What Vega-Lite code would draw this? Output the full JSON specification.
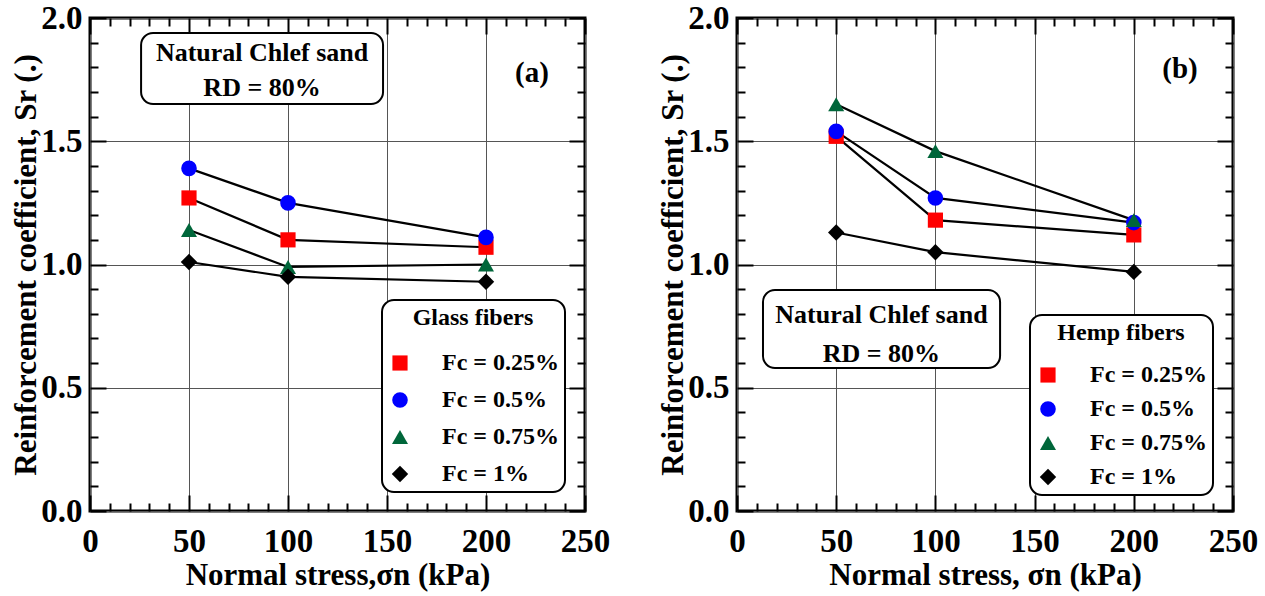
{
  "$schema": "https://vega.github.io/schema/vega-lite/v6.json",
  "autosize": {"type": "pad"},
  "padding": {"left": 9, "top": 0, "right": 5, "bottom": 0},
  "background": "white",
  "bounds": "flush",
  "spacing": 152,
  "datasets": {
    "glass": [
      {"sigma": 50, "Fc": "Fc = 0.25%", "Sr": 1.27},
      {"sigma": 100, "Fc": "Fc = 0.25%", "Sr": 1.10},
      {"sigma": 200, "Fc": "Fc = 0.25%", "Sr": 1.07},
      {"sigma": 50, "Fc": "Fc = 0.5%", "Sr": 1.39},
      {"sigma": 100, "Fc": "Fc = 0.5%", "Sr": 1.25},
      {"sigma": 200, "Fc": "Fc = 0.5%", "Sr": 1.11},
      {"sigma": 50, "Fc": "Fc = 0.75%", "Sr": 1.14},
      {"sigma": 100, "Fc": "Fc = 0.75%", "Sr": 0.99},
      {"sigma": 200, "Fc": "Fc = 0.75%", "Sr": 1.00},
      {"sigma": 50, "Fc": "Fc = 1%", "Sr": 1.01},
      {"sigma": 100, "Fc": "Fc = 1%", "Sr": 0.95},
      {"sigma": 200, "Fc": "Fc = 1%", "Sr": 0.93}
    ],
    "hemp": [
      {"sigma": 50, "Fc": "Fc = 0.25%", "Sr": 1.52},
      {"sigma": 100, "Fc": "Fc = 0.25%", "Sr": 1.18},
      {"sigma": 200, "Fc": "Fc = 0.25%", "Sr": 1.12},
      {"sigma": 50, "Fc": "Fc = 0.5%", "Sr": 1.54},
      {"sigma": 100, "Fc": "Fc = 0.5%", "Sr": 1.27},
      {"sigma": 200, "Fc": "Fc = 0.5%", "Sr": 1.17},
      {"sigma": 50, "Fc": "Fc = 0.75%", "Sr": 1.65},
      {"sigma": 100, "Fc": "Fc = 0.75%", "Sr": 1.46},
      {"sigma": 200, "Fc": "Fc = 0.75%", "Sr": 1.18},
      {"sigma": 50, "Fc": "Fc = 1%", "Sr": 1.13},
      {"sigma": 100, "Fc": "Fc = 1%", "Sr": 1.05},
      {"sigma": 200, "Fc": "Fc = 1%", "Sr": 0.97}
    ]
  },
  "hconcat": [
    {
      "width": 495,
      "height": 493,
      "resolve": {"axis": {"x": "independent", "y": "independent"}},
      "layer": [
        {
          "data": {"name": "glass"},
          "mark": {"type": "line", "color": "black", "strokeWidth": 2.2},
          "encoding": {
            "x": {"field": "sigma", "type": "quantitative", "scale": {"domain": [0, 250], "nice": false, "zero": false},
              "axis": {"orient": "bottom", "values": [0,10,20,30,40,50,60,70,80,90,100,110,120,130,140,150,160,170,180,190,200,210,220,230,240,250],
                "labelExpr": "datum.value % 50 === 0 ? datum.label : ''",
                "tickSize": {"condition": {"test": "datum.value % 50 === 0", "value": -16}, "value": -8},
                "labelPadding": 30, "grid": true, "gridColor": "#555", "gridWidth": 1,
                "gridOpacity": {"condition": {"test": "datum.value % 50 === 0", "value": 1}, "value": 0},
                "title": "Normal stress,σn (kPa)", "titlePadding": -6}},
            "y": {"field": "Sr", "type": "quantitative", "scale": {"domain": [0, 2], "nice": false, "zero": false},
              "axis": {"orient": "left", "values": [0,0.1,0.2,0.3,0.4,0.5,0.6,0.7,0.8,0.9,1,1.1,1.2,1.3,1.4,1.5,1.6,1.7,1.8,1.9,2],
                "labelExpr": "abs(datum.value*2 - round(datum.value*2)) < 0.01 ? format(datum.value, '.1f') : ''",
                "tickSize": {"condition": {"test": "abs(datum.value*2 - round(datum.value*2)) < 0.01", "value": -16}, "value": -8},
                "labelPadding": 24, "grid": true, "gridColor": "#555", "gridWidth": 1,
                "gridOpacity": {"condition": {"test": "abs(datum.value*2 - round(datum.value*2)) < 0.01", "value": 1}, "value": 0},
                "title": "Reinforcement coefficient, Sr (.)", "titlePadding": -2}},
            "detail": {"field": "Fc"}
          }
        },
        {
          "data": {"name": "glass"},
          "mark": {"type": "point", "filled": true, "opacity": 1},
          "encoding": {
            "x": {"field": "sigma", "type": "quantitative", "scale": {"domain": [0, 250], "nice": false, "zero": false},
              "axis": {"orient": "top", "values": [0,10,20,30,40,50,60,70,80,90,100,110,120,130,140,150,160,170,180,190,200,210,220,230,240,250],
                "labels": false, "grid": false, "domain": false, "title": null,
                "tickSize": {"condition": {"test": "datum.value % 50 === 0", "value": -16}, "value": -8}}},
            "y": {"field": "Sr", "type": "quantitative", "scale": {"domain": [0, 2], "nice": false, "zero": false},
              "axis": {"orient": "right", "values": [0,0.1,0.2,0.3,0.4,0.5,0.6,0.7,0.8,0.9,1,1.1,1.2,1.3,1.4,1.5,1.6,1.7,1.8,1.9,2],
                "labels": false, "grid": false, "domain": false, "title": null,
                "tickSize": {"condition": {"test": "abs(datum.value*2 - round(datum.value*2)) < 0.01", "value": -16}, "value": -8}}},
            "color": {"field": "Fc", "type": "nominal",
              "scale": {"domain": ["Fc = 0.25%", "Fc = 0.5%", "Fc = 0.75%", "Fc = 1%"], "range": ["#ff0000", "#0000ff", "#00663a", "#000000"]},
              "legend": {"title": "Glass fibers", "orient": "none", "legendX": 292, "legendY": 282, "rowPadding": 13, "titlePadding": 21}},
            "shape": {"field": "Fc", "type": "nominal",
              "scale": {"domain": ["Fc = 0.25%", "Fc = 0.5%", "Fc = 0.75%", "Fc = 1%"], "range": ["square", "circle", "triangle-up", "diamond"]},
              "legend": {"title": "Glass fibers", "orient": "none", "legendX": 292, "legendY": 282, "rowPadding": 13, "titlePadding": 21}},
            "size": {"field": "Fc", "type": "ordinal",
              "scale": {"domain": ["Fc = 0.25%", "Fc = 0.5%", "Fc = 0.75%", "Fc = 1%"], "range": [230, 270, 430, 380]},
              "legend": {"title": "Glass fibers", "orient": "none", "legendX": 292, "legendY": 282, "rowPadding": 13, "titlePadding": 21}}
          }
        },
        {
          "data": {"values": [{}]},
          "mark": {"type": "rect", "fill": "white", "stroke": "black", "strokeWidth": 2, "cornerRadius": 12},
          "encoding": {
            "x": {"datum": 25.8, "type": "quantitative", "scale": {"domain": [0, 250], "nice": false, "zero": false}, "axis": null},
            "x2": {"datum": 148},
            "y": {"datum": 1.939, "type": "quantitative", "scale": {"domain": [0, 2], "nice": false, "zero": false}, "axis": null},
            "y2": {"datum": 1.651}
          }
        },
        {
          "data": {"values": [{}]},
          "mark": {"type": "text", "text": "Natural Chlef sand", "font": "Liberation Serif", "fontWeight": "bold", "fontSize": 26, "align": "center", "baseline": "middle", "color": "black"},
          "encoding": {
            "x": {"datum": 86.9, "type": "quantitative", "scale": {"domain": [0, 250], "nice": false, "zero": false}, "axis": null},
            "y": {"datum": 1.858, "type": "quantitative", "scale": {"domain": [0, 2], "nice": false, "zero": false}, "axis": null}
          }
        },
        {
          "data": {"values": [{}]},
          "mark": {"type": "text", "text": "RD = 80%", "font": "Liberation Serif", "fontWeight": "bold", "fontSize": 26, "align": "center", "baseline": "middle", "color": "black"},
          "encoding": {
            "x": {"datum": 86.9, "type": "quantitative", "scale": {"domain": [0, 250], "nice": false, "zero": false}, "axis": null},
            "y": {"datum": 1.716, "type": "quantitative", "scale": {"domain": [0, 2], "nice": false, "zero": false}, "axis": null}
          }
        },
        {
          "data": {"values": [{}]},
          "mark": {"type": "text", "text": "(a)", "font": "Liberation Serif", "fontWeight": "bold", "fontSize": 29, "align": "center", "baseline": "middle", "color": "black"},
          "encoding": {
            "x": {"datum": 223.2, "type": "quantitative", "scale": {"domain": [0, 250], "nice": false, "zero": false}, "axis": null},
            "y": {"datum": 1.775, "type": "quantitative", "scale": {"domain": [0, 2], "nice": false, "zero": false}, "axis": null}
          }
        }
      ]
    },
    {
      "width": 496,
      "height": 493,
      "resolve": {"axis": {"x": "independent", "y": "independent"}},
      "layer": [
        {
          "data": {"name": "hemp"},
          "mark": {"type": "line", "color": "black", "strokeWidth": 2.2},
          "encoding": {
            "x": {"field": "sigma", "type": "quantitative", "scale": {"domain": [0, 250], "nice": false, "zero": false},
              "axis": {"orient": "bottom", "values": [0,10,20,30,40,50,60,70,80,90,100,110,120,130,140,150,160,170,180,190,200,210,220,230,240,250],
                "labelExpr": "datum.value % 50 === 0 ? datum.label : ''",
                "tickSize": {"condition": {"test": "datum.value % 50 === 0", "value": -16}, "value": -8},
                "labelPadding": 30, "grid": true, "gridColor": "#555", "gridWidth": 1,
                "gridOpacity": {"condition": {"test": "datum.value % 50 === 0", "value": 1}, "value": 0},
                "title": "Normal stress, σn (kPa)", "titlePadding": -6}},
            "y": {"field": "Sr", "type": "quantitative", "scale": {"domain": [0, 2], "nice": false, "zero": false},
              "axis": {"orient": "left", "values": [0,0.1,0.2,0.3,0.4,0.5,0.6,0.7,0.8,0.9,1,1.1,1.2,1.3,1.4,1.5,1.6,1.7,1.8,1.9,2],
                "labelExpr": "abs(datum.value*2 - round(datum.value*2)) < 0.01 ? format(datum.value, '.1f') : ''",
                "tickSize": {"condition": {"test": "abs(datum.value*2 - round(datum.value*2)) < 0.01", "value": -16}, "value": -8},
                "labelPadding": 24, "grid": true, "gridColor": "#555", "gridWidth": 1,
                "gridOpacity": {"condition": {"test": "abs(datum.value*2 - round(datum.value*2)) < 0.01", "value": 1}, "value": 0},
                "title": "Reinforcement coefficient, Sr (.)", "titlePadding": -2}},
            "detail": {"field": "Fc"}
          }
        },
        {
          "data": {"name": "hemp"},
          "mark": {"type": "point", "filled": true, "opacity": 1},
          "encoding": {
            "x": {"field": "sigma", "type": "quantitative", "scale": {"domain": [0, 250], "nice": false, "zero": false},
              "axis": {"orient": "top", "values": [0,10,20,30,40,50,60,70,80,90,100,110,120,130,140,150,160,170,180,190,200,210,220,230,240,250],
                "labels": false, "grid": false, "domain": false, "title": null,
                "tickSize": {"condition": {"test": "datum.value % 50 === 0", "value": -16}, "value": -8}}},
            "y": {"field": "Sr", "type": "quantitative", "scale": {"domain": [0, 2], "nice": false, "zero": false},
              "axis": {"orient": "right", "values": [0,0.1,0.2,0.3,0.4,0.5,0.6,0.7,0.8,0.9,1,1.1,1.2,1.3,1.4,1.5,1.6,1.7,1.8,1.9,2],
                "labels": false, "grid": false, "domain": false, "title": null,
                "tickSize": {"condition": {"test": "abs(datum.value*2 - round(datum.value*2)) < 0.01", "value": -16}, "value": -8}}},
            "color": {"field": "Fc", "type": "nominal",
              "scale": {"domain": ["Fc = 0.25%", "Fc = 0.5%", "Fc = 0.75%", "Fc = 1%"], "range": ["#ff0000", "#0000ff", "#00663a", "#000000"]},
              "legend": {"title": "Hemp fibers", "orient": "none", "legendX": 293, "legendY": 297, "rowPadding": 10, "titlePadding": 18}},
            "shape": {"field": "Fc", "type": "nominal",
              "scale": {"domain": ["Fc = 0.25%", "Fc = 0.5%", "Fc = 0.75%", "Fc = 1%"], "range": ["square", "circle", "triangle-up", "diamond"]},
              "legend": {"title": "Hemp fibers", "orient": "none", "legendX": 293, "legendY": 297, "rowPadding": 10, "titlePadding": 18}},
            "size": {"field": "Fc", "type": "ordinal",
              "scale": {"domain": ["Fc = 0.25%", "Fc = 0.5%", "Fc = 0.75%", "Fc = 1%"], "range": [230, 270, 430, 380]},
              "legend": {"title": "Hemp fibers", "orient": "none", "legendX": 293, "legendY": 297, "rowPadding": 10, "titlePadding": 18}}
          }
        },
        {
          "data": {"values": [{}]},
          "mark": {"type": "rect", "fill": "white", "stroke": "black", "strokeWidth": 2, "cornerRadius": 12},
          "encoding": {
            "x": {"datum": 13.1, "type": "quantitative", "scale": {"domain": [0, 250], "nice": false, "zero": false}, "axis": null},
            "x2": {"datum": 132.6},
            "y": {"datum": 0.8966, "type": "quantitative", "scale": {"domain": [0, 2], "nice": false, "zero": false}, "axis": null},
            "y2": {"datum": 0.58}
          }
        },
        {
          "data": {"values": [{}]},
          "mark": {"type": "text", "text": "Natural Chlef sand", "font": "Liberation Serif", "fontWeight": "bold", "fontSize": 26, "align": "center", "baseline": "middle", "color": "black"},
          "encoding": {
            "x": {"datum": 72.8, "type": "quantitative", "scale": {"domain": [0, 250], "nice": false, "zero": false}, "axis": null},
            "y": {"datum": 0.795, "type": "quantitative", "scale": {"domain": [0, 2], "nice": false, "zero": false}, "axis": null}
          }
        },
        {
          "data": {"values": [{}]},
          "mark": {"type": "text", "text": "RD = 80%", "font": "Liberation Serif", "fontWeight": "bold", "fontSize": 26, "align": "center", "baseline": "middle", "color": "black"},
          "encoding": {
            "x": {"datum": 72.8, "type": "quantitative", "scale": {"domain": [0, 250], "nice": false, "zero": false}, "axis": null},
            "y": {"datum": 0.637, "type": "quantitative", "scale": {"domain": [0, 2], "nice": false, "zero": false}, "axis": null}
          }
        },
        {
          "data": {"values": [{}]},
          "mark": {"type": "text", "text": "(b)", "font": "Liberation Serif", "fontWeight": "bold", "fontSize": 29, "align": "center", "baseline": "middle", "color": "black"},
          "encoding": {
            "x": {"datum": 223.3, "type": "quantitative", "scale": {"domain": [0, 250], "nice": false, "zero": false}, "axis": null},
            "y": {"datum": 1.795, "type": "quantitative", "scale": {"domain": [0, 2], "nice": false, "zero": false}, "axis": null}
          }
        }
      ]
    }
  ],
  "resolve": {
    "scale": {"color": "independent", "shape": "independent", "size": "independent"},
    "legend": {"color": "independent", "shape": "independent", "size": "independent"}
  },
  "config": {
    "view": {"stroke": "black", "strokeWidth": 3},
    "axis": {
      "labelFont": "Liberation Serif", "labelFontWeight": "bold", "labelFontSize": 33, "labelColor": "black",
      "titleFont": "Liberation Serif", "titleFontWeight": "bold", "titleFontSize": 31, "titleColor": "black",
      "tickColor": "black", "tickWidth": 2, "domain": false, "labelFlush": false, "labelOverlap": false
    },
    "legend": {
      "labelFont": "Liberation Serif", "labelFontWeight": "bold", "labelFontSize": 24, "labelColor": "black",
      "titleFont": "Liberation Serif", "titleFontWeight": "bold", "titleFontSize": 24, "titleColor": "black",
      "titleAnchor": "middle", "padding": 6, "labelOffset": 30,
      "strokeColor": "black", "strokeWidth": 2, "fillColor": "white", "cornerRadius": 12, "symbolStrokeWidth": 0, "labelLimit": 300
    }
  }
}
